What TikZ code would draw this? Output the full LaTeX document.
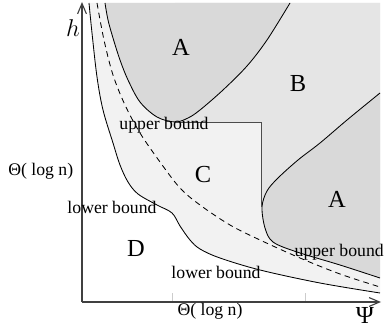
\documentclass[tikz,border=0pt]{standalone}
\usepackage{fontspec}
\setmainfont{Liberation Serif}
\usetikzlibrary{arrows.meta}
\definecolor{regA}{gray}{0.85}
\definecolor{regB}{gray}{0.90}
\definecolor{regC}{gray}{0.95}
\definecolor{rectGray}{gray}{0.3}

% the four curves, in pixel units
\newcommand{\lowcurve}{plot[smooth,tension=0.55] coordinates {(89,3) (92,33) (97,77) (103,110) (113,143) (120,165) (128,182) (138,194) (157,205) (172,213) (180,226) (190,240) (200,249) (220,258) (260,270) (320,283) (380,293)}}
\newcommand{\dashcurve}{plot[smooth,tension=0.55] coordinates {(97,3) (104,40) (113,75) (125,105) (140,133) (160,162) (180,188) (200,205) (230,225) (260,240) (300,258) (340,274) (380,287)}}
\newcommand{\Aleftcurve}{plot[smooth,tension=0.55] coordinates {(105,3) (108,20) (113,38) (120,60) (128,80) (140,102) (157,117) (175,122) (188,118) (200,110) (223,90) (247,66) (267,40) (290,3)}}
\newcommand{\Arightcurve}{plot[smooth,tension=0.55] coordinates {(380,93) (347,120) (320,143) (298,160) (278,178) (267,191) (262,207) (265,228) (273,242) (297,252) (340,265) (380,278)}}

\begin{document}
\begin{tikzpicture}[x=0.025cm, y=-0.025cm,
    lbl/.style={inner sep=0pt, font=\fontsize{12.6}{15}\selectfont},
    big/.style={inner sep=0pt, font=\fontsize{17.4}{20}\selectfont},
    curve/.style={line width=0.6pt},
    axis/.style={line width=0.8pt, black!75, -{Straight Barb[length=2.6mm,width=2.2mm]}},
    tick/.style={line width=0.5pt, black!20}]
  \useasboundingbox (0,0) rectangle (385,327);

  % regions
  \fill[regC] \lowcurve -- (380,3) -- cycle;
  \fill[regB] (175,3) -- (175,122) -- (261,122) -- (261,207) -- (380,207) -- (380,3) -- cycle;
  \fill[regA] \Aleftcurve -- cycle;
  \fill[regA] \Arightcurve -- cycle;

  % boundaries
  \draw[curve] \lowcurve;
  \draw[curve, dashed, dash pattern=on 4pt off 3pt] \dashcurve;
  \draw[curve] \Aleftcurve;
  \draw[curve] \Arightcurve;
  \draw[line width=0.6pt, rectGray] (175,122) -- (261,122) -- (261,207);

  % axes
  \coordinate (O) at (82,302);
  \coordinate (ytop) at (82,2);
  \coordinate (xend) at (381,302);
  \foreach \t in {172,305}
    \draw[tick] (\t,301) -- (\t,293);
  \draw[axis] (O) -- (ytop);
  \draw[axis] (O) -- (xend);

  % labels
  \node[inner sep=0pt, font=\fontsize{16}{18}\selectfont] (hlab) at (73,28) {$h$};
  \node[lbl, anchor=base west] (thetay) at (8,175) {Θ( log n)};
  \node[lbl, anchor=base] (thetax) at (210,315) {Θ( log n)};
  \node[big] (psi) at (365,315) {Ψ};
  \node[lbl, anchor=base] (ubtop) at (164,130) {upper bound};
  \node[lbl, anchor=base] (lbleft) at (112,213) {lower bound};
  \node[lbl, anchor=base] (lbbot) at (216,278) {lower bound};
  \node[lbl, anchor=base east] (ubright) at (384,256) {upper bound};
  \node[big] (atop) at (181,47) {A};
  \node[big] (bmid) at (298,84) {B};
  \node[big] (cmid) at (203,175) {C};
  \node[big] (dlow) at (136,249) {D};
  \node[big] (aright) at (337,199) {A};
\end{tikzpicture}
\end{document}
